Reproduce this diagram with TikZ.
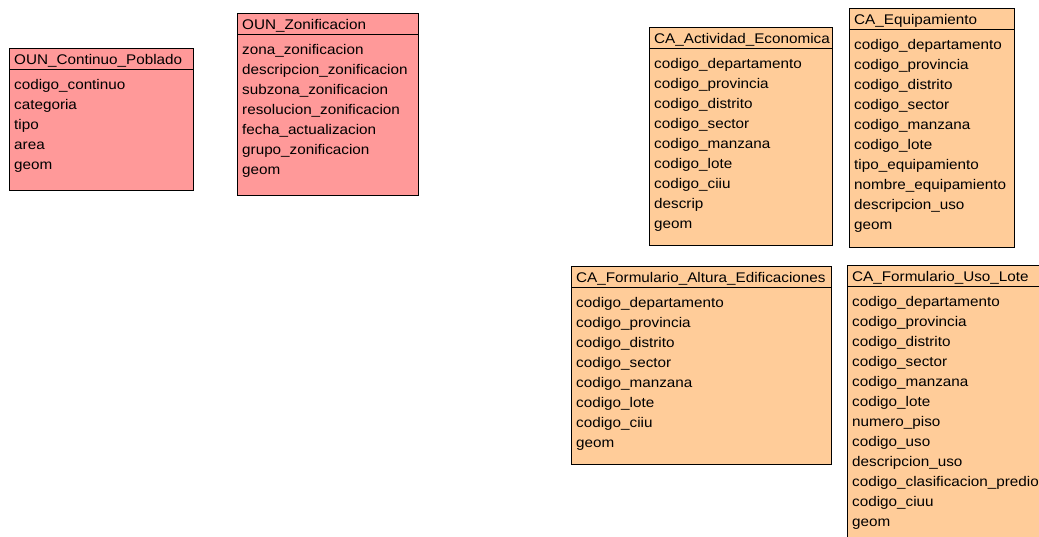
\documentclass[tikz,border=0pt]{standalone}
\usepackage{fontspec}
\setmainfont[FakeStretch=1.09]{Liberation Sans}
\definecolor{pinkfill}{HTML}{FF9999}
\definecolor{orangefill}{HTML}{FFCC99}
\newcommand{\entity}[8]{%
  % #1 name, #2 x, #3 y, #4 width, #5 height, #6 fill, #7 title, #8 entries
  \node[entbox, fill=#6, minimum width=#4pt, minimum height=#5pt] (#1) at (#2,#3) {};
  \draw[line width=1pt] ([yshift=-21pt]#1.north west) -- ([yshift=-21pt]#1.north east);
  \node[txt] (#1-t) at ([xshift=5pt,yshift=-16pt]#1.north west) {#7};
  \foreach \s [count=\i] in {#8}{
    \pgfmathsetmacro\yy{-41-20*(\i-1)}
    \node[txt] (#1-\i) at ([xshift=5pt,yshift=\yy pt]#1.north west) {\s};
  }
}
\begin{document}
\begin{tikzpicture}[x=1pt,y=-1pt,
  entbox/.style={draw=black, line width=1pt, rectangle, anchor=north west, inner sep=0pt, outer sep=0pt},
  txt/.style={anchor=base west, inner sep=0pt, font=\fontsize{14}{16}\selectfont, text=black}]
\useasboundingbox (0,0) rectangle (1039,536);
\clip (0,0) rectangle (1039,536);
\entity{cp}{9}{48}{184}{142}{pinkfill}{OUN\_Continuo\_Poblado}{codigo\_continuo,categoria,tipo,area,geom}
\entity{zo}{237}{13}{181}{182}{pinkfill}{OUN\_Zonificacion}{zona\_zonificacion,descripcion\_zonificacion,subzona\_zonificacion,resolucion\_zonificacion,fecha\_actualizacion,grupo\_zonificacion,geom}
\entity{ae}{649}{27}{183}{218}{orangefill}{CA\_Actividad\_Economica}{codigo\_departamento,codigo\_provincia,codigo\_distrito,codigo\_sector,codigo\_manzana,codigo\_lote,codigo\_ciiu,descrip,geom}
\entity{eq}{849}{8}{165}{239}{orangefill}{CA\_Equipamiento}{codigo\_departamento,codigo\_provincia,codigo\_distrito,codigo\_sector,codigo\_manzana,codigo\_lote,tipo\_equipamiento,nombre\_equipamiento,descripcion\_uso,geom}
\entity{fa}{571}{266}{260}{198}{orangefill}{CA\_Formulario\_Altura\_Edificaciones}{codigo\_departamento,codigo\_provincia,codigo\_distrito,codigo\_sector,codigo\_manzana,codigo\_lote,codigo\_ciiu,geom}
\entity{ul}{847}{265}{220}{300}{orangefill}{CA\_Formulario\_Uso\_Lote}{codigo\_departamento,codigo\_provincia,codigo\_distrito,codigo\_sector,codigo\_manzana,codigo\_lote,numero\_piso,codigo\_uso,descripcion\_uso,codigo\_clasificacion\_predio,codigo\_ciuu,geom}
\end{tikzpicture}
\end{document}
